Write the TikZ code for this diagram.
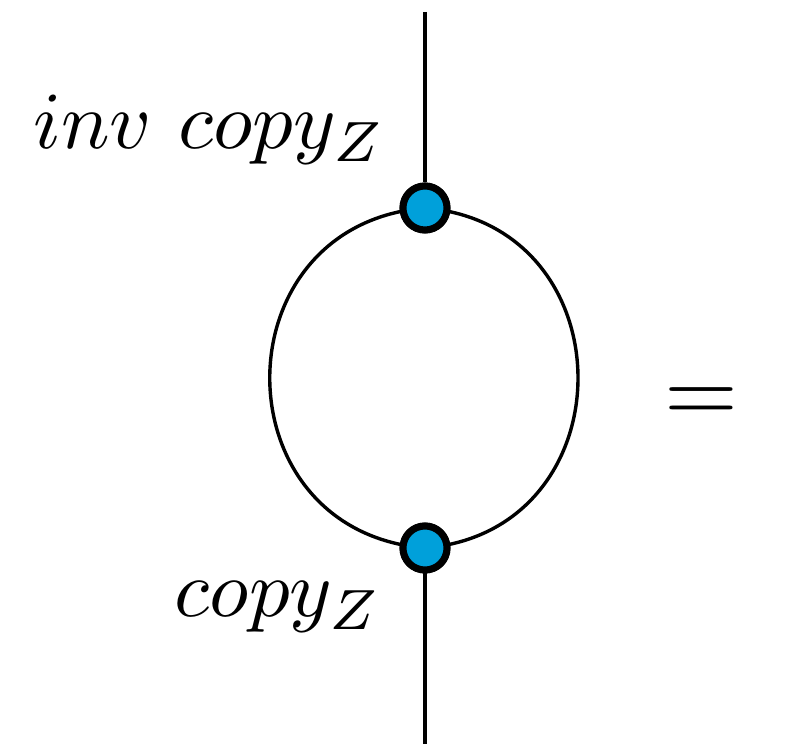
\documentclass[tikz,border=0pt]{standalone}
\usepackage{graphicx}
\usepackage{xcolor}
\usepackage{tikz}
\usetikzlibrary{positioning}
\definecolor{spiderblue}{RGB}{0,160,218}
\newcommand{\bigmath}[1]{\scalebox{8.1}{$#1$}}
\tikzset{
  wire/.style={
    line width=3.4pt,
    draw=black
  },
  spider/.style={
    circle,
    draw=black,
    line width=7pt,
    fill=spiderblue,
    minimum size=44pt,
    inner sep=0pt
  },
  spiderlabel/.style={
    inner sep=0pt,
    anchor=base east
  }
}

\begin{document}
\begin{tikzpicture}[x=1pt,y=1pt]
\useasboundingbox (0,0) rectangle (809,744);
\coordinate (topend) at (425,732);
\coordinate (botend) at (425,0);
\node[spider] (invcopy) at (425,536) {};
\node[spider] (copy) at (425,196) {};

\draw[wire] (topend) -- (invcopy);
\draw[wire] (copy) -- (botend);
\draw[wire] (invcopy.center) .. controls (218,519) and (218,213) .. (copy.center);
\draw[wire] (invcopy.center) .. controls (629,519) and (629,213) .. (copy.center);
% redraw dots over the loop
\node[spider] at (invcopy) {};
\node[spider] at (copy) {};

\node[spiderlabel] (invlabel) at (386,595) {\bigmath{inv\ copy_Z}};
\node[spiderlabel] (copylabel) at (382,127) {\bigmath{copy_Z}};
\node[inner sep=0pt] (equals) at (701,339) {\scalebox{9.5}{$=$}};
\end{tikzpicture}
\end{document}
